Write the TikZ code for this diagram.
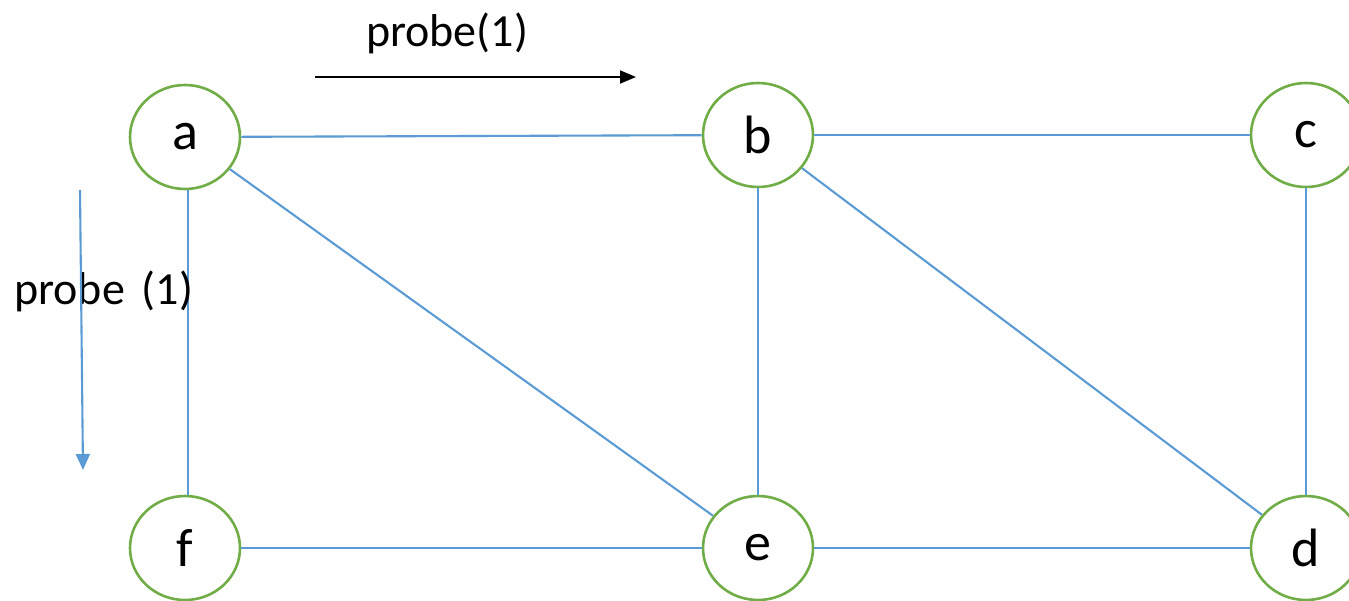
\documentclass[tikz,border=0pt]{standalone}
\usepackage{fontspec}
\setmainfont{Carlito}
\usetikzlibrary{shapes.geometric,arrows.meta}
\definecolor{vgreen}{RGB}{112,173,71}
\definecolor{eblue}{RGB}{91,155,213}
\begin{document}
\begin{tikzpicture}[x=1pt,y=-1pt,
  vertex/.style={ellipse,draw=vgreen,line width=2.6pt,fill=white,minimum width=110pt,minimum height=104pt,inner sep=0pt,font=\fontsize{54}{60}\selectfont},
  edge/.style={draw=eblue,line width=2.1pt},
  lbl/.style={font=\fontsize{46}{52}\selectfont,inner sep=0pt}]
\useasboundingbox (0,0) rectangle (1349,600);
\node[vertex] (a) at (185,137) {a};
\node[vertex] (b) at (758,135) {b};
\node[vertex] (c) at (1306,135) {c};
\node[vertex] (f) at (185,548) {f};
\node[vertex] (e) at (758,548) {e};
\node[vertex] (d) at (1306,548) {d};
\draw[edge] (a) -- (b);
\draw[edge] (b) -- (c);
\draw[edge] (a) -- (e);
\draw[edge] ([xshift=3pt]a.south) -- ([xshift=3pt]f.north);
\draw[edge] (b) -- (e);
\draw[edge] (b) -- (d);
\draw[edge] (c) -- (d);
\draw[edge] (f) -- (e);
\draw[edge] (e) -- (d);
\node[lbl] (t1) at (447,33) {probe(1)};
\coordinate (h1) at (315,77);
\coordinate (h2) at (636,77);
\draw[line width=1.8pt,-{Triangle[length=16pt,width=13pt]}] (h1) -- (h2);
\node[lbl,anchor=west] (t2) at (14,291) {probe\hspace{17pt}(1)};
\coordinate (v1) at (80,190);
\coordinate (v2) at (83,470);
\draw[draw=eblue,line width=2.1pt,-{Triangle[length=16pt,width=14pt]}] (v1) -- (v2);
\end{tikzpicture}
\end{document}
